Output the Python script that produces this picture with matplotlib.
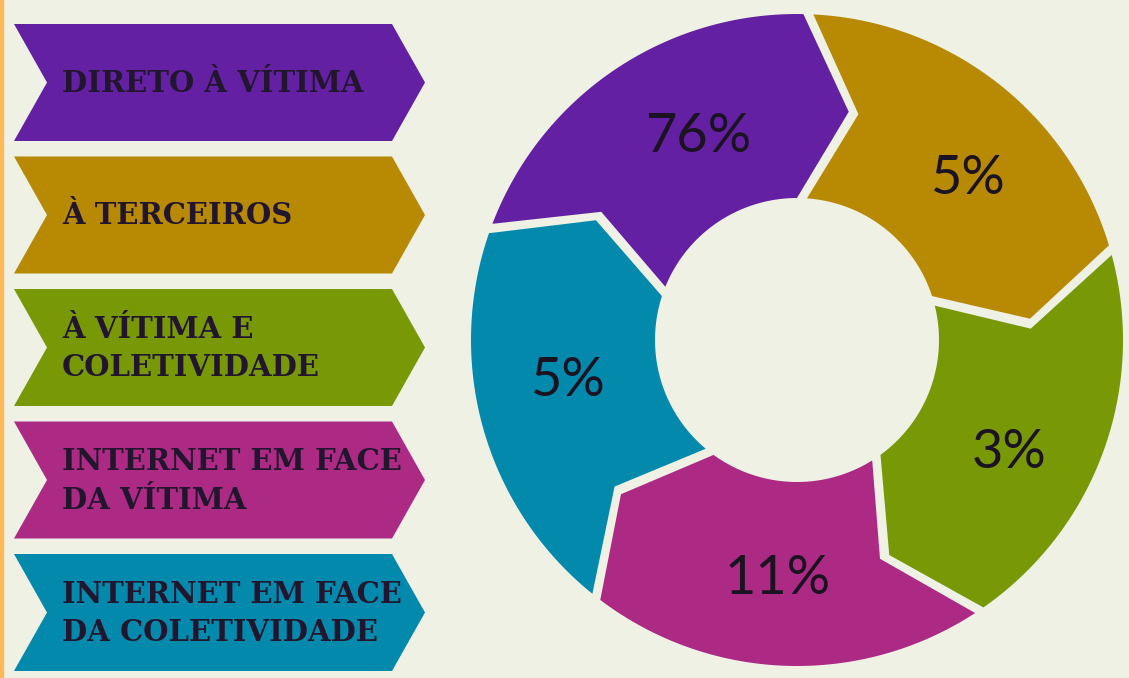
import numpy as np
import matplotlib
matplotlib.use("Agg")
import matplotlib.pyplot as plt
from matplotlib.patches import Polygon, Rectangle

# ===== Dados =====
categorias = [
    "DIRETO À VÍTIMA",
    "À TERCEIROS",
    "À VÍTIMA E\nCOLETIVIDADE",
    "INTERNET EM FACE\nDA VÍTIMA",
    "INTERNET EM FACE\nDA COLETIVIDADE",
]
percentuais = [76, 5, 3, 11, 5]
cores = ["#6420A2", "#B88A04", "#789806", "#AC2A84", "#0389AC"]

# ===== Layout (pixels) =====
W, H = 1129, 678
fundo = "#EEF1E4"
cx, cy = 797, 340
r_ext, r_int = 326, 142
r_meio = (r_ext + r_int) / 2
gap = 10          # espaço entre segmentos (px)
ponta = 12        # avanço da ponta da seta (graus)
giro = -2         # rotação do anel (graus)
ang_rotulo = [116, 43.5, -28, -94.6, 190]
r_rotulo = [226, 235, 240, 239, 233]

fig = plt.figure(figsize=(W / 100, H / 100), dpi=100)
ax = fig.add_axes([0, 0, 1, 1])
ax.set_xlim(0, W)
ax.set_ylim(H, 0)
ax.set_aspect("equal")
ax.axis("off")
fig.patch.set_facecolor(fundo)
ax.add_patch(Rectangle((0, 0), 3, H, color="#FFB85A", zorder=1))


def ponto(ang_deg, r):
    a = np.radians(ang_deg)
    return (cx + r * np.cos(a), cy - r * np.sin(a))


def desloc(r):
    return np.degrees(gap / 2 / r)


n = len(categorias)
passo = 360 / n
for i, (valor, cor) in enumerate(zip(percentuais, cores)):
    a0 = 90 + giro + passo - passo * i
    a1 = a0 - passo
    pts = []
    # arco externo (sentido horário)
    for a in np.linspace(a0 - desloc(r_ext), a1 + desloc(r_ext), 60):
        pts.append(ponto(a, r_ext))
    # ponta da seta
    pts.append(ponto(a1 - ponta + desloc(r_meio), r_meio))
    # arco interno (volta)
    for a in np.linspace(a1 + desloc(r_int), a0 - desloc(r_int), 40):
        pts.append(ponto(a, r_int))
    # entalhe
    pts.append(ponto(a0 - ponta - desloc(r_meio), r_meio))
    ax.add_patch(Polygon(pts, closed=True, facecolor=cor, edgecolor="none", zorder=2))
    tx, ty = ponto(ang_rotulo[i], r_rotulo[i])
    ax.text(tx, ty, f"{valor}%", ha="center", va="center", fontsize=39,
            family="Lato", color="#1B1322", zorder=3)

# ===== Setas da legenda =====
x0, x_corpo, x_ponta, entalhe = 14, 392, 425, 33
topo0, altura, passo_y = 24, 117, 132.5
for i, (nome, cor) in enumerate(zip(categorias, cores)):
    t = topo0 + passo_y * i
    b = t + altura
    m = (t + b) / 2
    pts = [(x0, t), (x_corpo, t), (x_ponta, m), (x_corpo, b), (x0, b), (x0 + entalhe, m)]
    ax.add_patch(Polygon(pts, closed=True, facecolor=cor, edgecolor="none", zorder=2))
    ax.text(62, m + 1, nome, ha="left", va="center", fontsize=21,
            family="DejaVu Serif", fontweight="bold", color="#22162E",
            linespacing=1.4, zorder=3)

fig.savefig("out.png", dpi=100, facecolor=fundo)
